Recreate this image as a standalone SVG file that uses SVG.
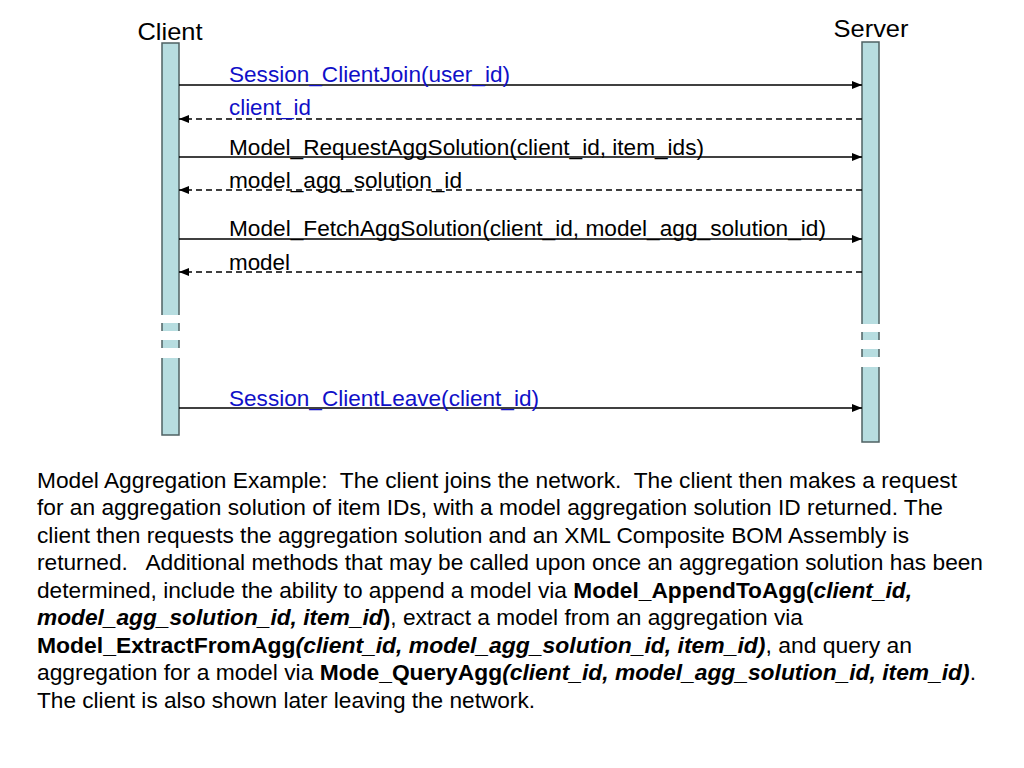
<svg xmlns="http://www.w3.org/2000/svg" width="1024" height="768" viewBox="0 0 1024 768">
<style>
.t{font-family:"Liberation Sans",Arial,sans-serif;font-size:21.5px;fill:#000;white-space:pre}
.h{font-family:"Liberation Sans",Arial,sans-serif;font-size:24px;fill:#000}
.blue{fill:#1010c8}
.bar{fill:#b7dde0;stroke:#4f6163;stroke-width:1.5}
.gap{fill:#fff;stroke:none}
.msg{stroke:#000;stroke-width:1.5;fill:none}
.ret{stroke:#000;stroke-width:1.5;fill:none;stroke-dasharray:6 4}
.b{font-weight:bold}
.bi{font-weight:bold;font-style:italic}
</style>
<defs>
<marker id="ah" viewBox="0 0 10 8" refX="10" refY="4" markerWidth="10" markerHeight="8" markerUnits="userSpaceOnUse" orient="auto">
<path d="M0,0 L10,4 L0,8 z" fill="#000"/>
</marker>
</defs>
<rect width="1024" height="768" fill="#fff"/>
<g id="client">
<text class="h" x="170" y="40" text-anchor="middle" textLength="65" lengthAdjust="spacingAndGlyphs">Client</text>
<rect class="bar" x="162" y="43" width="17" height="392"/>
<rect class="gap" x="160" y="315" width="21" height="8"/>
<rect class="gap" x="160" y="331" width="21" height="9"/>
<rect class="gap" x="160" y="348" width="21" height="10"/>
</g>
<g id="server">
<text class="h" x="871" y="37" text-anchor="middle" textLength="75" lengthAdjust="spacingAndGlyphs">Server</text>
<rect class="bar" x="862" y="42" width="17" height="400"/>
<rect class="gap" x="860" y="324" width="21" height="8"/>
<rect class="gap" x="860" y="340" width="21" height="9"/>
<rect class="gap" x="860" y="357" width="21" height="10"/>
</g>
<g id="connectors">
<line class="msg" x1="179" y1="85" x2="862" y2="85" marker-end="url(#ah)"/>
<line class="ret" x1="862" y1="119" x2="179" y2="119" marker-end="url(#ah)"/>
<line class="msg" x1="179" y1="157" x2="862" y2="157" marker-end="url(#ah)"/>
<line class="ret" x1="862" y1="190" x2="179" y2="190" marker-end="url(#ah)"/>
<line class="msg" x1="179" y1="239" x2="862" y2="239" marker-end="url(#ah)"/>
<line class="ret" x1="862" y1="272" x2="179" y2="272" marker-end="url(#ah)"/>
<line class="msg" x1="179" y1="408" x2="862" y2="408" marker-end="url(#ah)"/>
<text class="t blue" x="229" y="82" textLength="281" lengthAdjust="spacingAndGlyphs">Session_ClientJoin(user_id)</text>
<text class="t blue" x="229" y="115" textLength="82" lengthAdjust="spacingAndGlyphs">client_id</text>
<text class="t" x="229" y="155" textLength="475" lengthAdjust="spacingAndGlyphs">Model_RequestAggSolution(client_id, item_ids)</text>
<text class="t" x="229" y="188" textLength="233" lengthAdjust="spacingAndGlyphs">model_agg_solution_id</text>
<text class="t" x="229" y="236" textLength="597" lengthAdjust="spacingAndGlyphs">Model_FetchAggSolution(client_id, model_agg_solution_id)</text>
<text class="t" x="229" y="270" textLength="61" lengthAdjust="spacingAndGlyphs">model</text>
<text class="t blue" x="229" y="406" textLength="310" lengthAdjust="spacingAndGlyphs">Session_ClientLeave(client_id)</text>
</g>
<g id="description">
<text class="t" x="37" y="488" textLength="920" lengthAdjust="spacingAndGlyphs">Model Aggregation Example:  The client joins the network.  The client then makes a request</text>
<text class="t" x="37" y="515" textLength="906" lengthAdjust="spacingAndGlyphs">for an aggregation solution of item IDs, with a model aggregation solution ID returned. The</text>
<text class="t" x="37" y="543" textLength="872" lengthAdjust="spacingAndGlyphs">client then requests the aggregation solution and an XML Composite BOM Assembly is</text>
<text class="t" x="37" y="570" textLength="946" lengthAdjust="spacingAndGlyphs">returned.   Additional methods that may be called upon once an aggregation solution has been</text>
<text class="t" x="37" y="598" textLength="875" lengthAdjust="spacingAndGlyphs">determined, include the ability to append a model via <tspan class="b">Model_AppendToAgg(</tspan><tspan class="bi">client_id,</tspan></text>
<text class="t" x="37" y="625" textLength="766" lengthAdjust="spacingAndGlyphs"><tspan class="bi">model_agg_solution_id, item_id</tspan><tspan class="b">)</tspan>, extract a model from an aggregation via</text>
<text class="t" x="37" y="653" textLength="875" lengthAdjust="spacingAndGlyphs"><tspan class="b">Model_ExtractFromAgg</tspan><tspan class="bi">(client_id, model_agg_solution_id, item_id)</tspan>, and query an</text>
<text class="t" x="37" y="680" textLength="939" lengthAdjust="spacingAndGlyphs">aggregation for a model via <tspan class="b">Mode_QueryAgg</tspan><tspan class="bi">(client_id, model_agg_solution_id, item_id)</tspan>.</text>
<text class="t" x="37" y="708" textLength="498" lengthAdjust="spacingAndGlyphs">The client is also shown later leaving the network.</text>
</g>
</svg>
